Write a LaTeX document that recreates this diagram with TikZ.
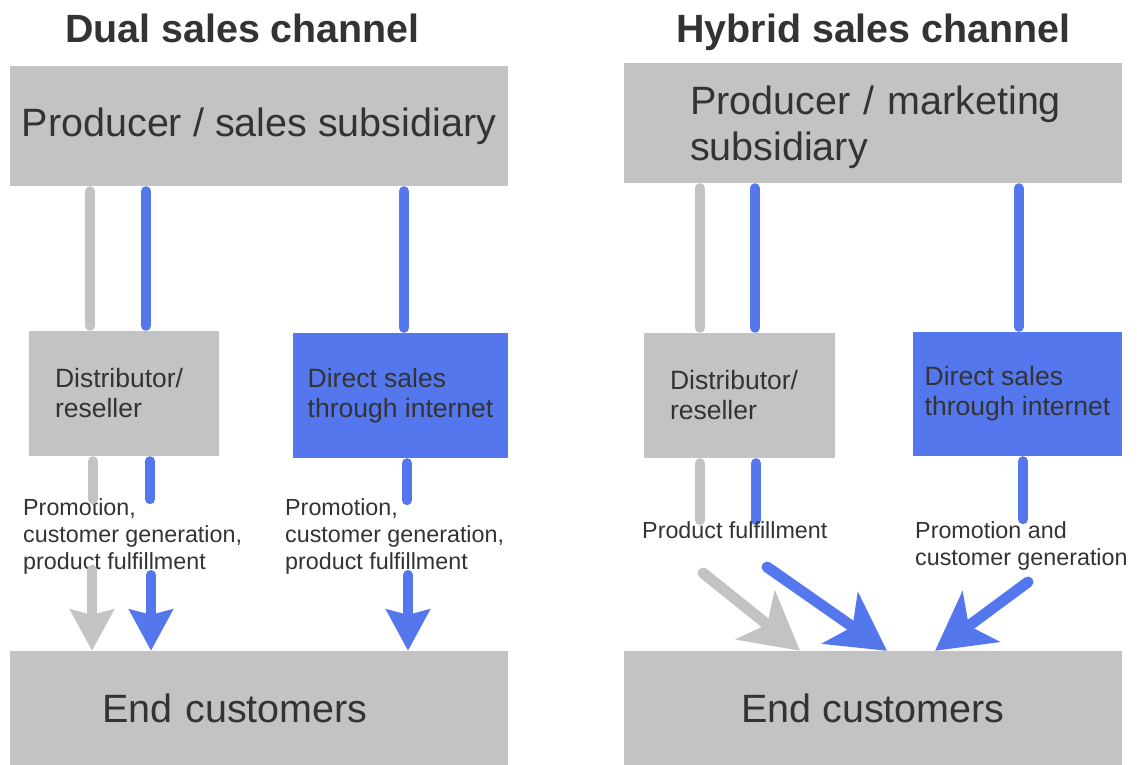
\documentclass[tikz,border=0pt]{standalone}
\usepackage{fontspec}
\setmainfont{Liberation Sans}
\usetikzlibrary{arrows.meta}

\definecolor{boxgray}{HTML}{C3C3C3}
\definecolor{chblue}{HTML}{5477ED}
\definecolor{txt}{HTML}{333333}

\newcommand{\bigtxt}{\fontsize{39.5}{43}\selectfont}
\newcommand{\midtxt}{\fontsize{26.5}{30}\selectfont}
\newcommand{\smalltxt}{\fontsize{23.3}{27}\selectfont}

\begin{document}
\begin{tikzpicture}[x=1pt,y=-1pt,
  every node/.style={text=txt,inner sep=0pt},
  box/.style={fill=#1,inner ysep=0pt},
  title/.style={font=\bfseries\fontsize{39.4}{44}\selectfont,anchor=base},
  note/.style={font=\smalltxt,align=left,anchor=north west},
  link/.style={line width=10pt,line cap=round,draw=#1,shorten <=5pt,shorten >=5pt},
  down/.style={line width=10pt,line cap=round,draw=#1,-{Stealth[length=41pt,width=43pt,inset=5pt]}},
  slant/.style={line width=11pt,line cap=round,draw=#1,-{Stealth[length=57pt,width=62pt,inset=15pt]}}]

\useasboundingbox (0,0) rectangle (1137,765);

%Dual sales channel
\node[title] (titL) at (242.5,43) {Dual sales channel};

\node[box=boxgray,minimum width=498pt,minimum height=120pt,font=\bigtxt] (prodL) at (259,126) {Producer / sales subsidiary};
\node[box=boxgray,minimum width=190pt,minimum height=125pt,inner xsep=26pt,text width=138pt,align=left,font=\midtxt] (distL) at (124,393.5) {Distributor/\\reseller};
\node[box=chblue,minimum width=215pt,minimum height=125pt,align=left,font=\midtxt] (webL) at (400.5,395.5) {Direct sales\\through internet};
\node[box=boxgray,minimum width=498pt,minimum height=114pt,inner xsep=92pt,text width=314pt,align=left,font=\bigtxt] (endL) at (259,708) {End customers};

\coordinate (g1) at (90,0);
\coordinate (b1) at (146,0);
\coordinate (b2) at (404,0);
\coordinate (g1s) at (93,0);
\coordinate (b1s) at (150,0);
\coordinate (b2s) at (407,0);

\draw[link=boxgray] (g1 |- prodL.south) -- (g1 |- distL.north);
\draw[link=chblue] (b1 |- prodL.south) -- (b1 |- distL.north);
\draw[link=chblue] (b2 |- prodL.south) -- (b2 |- webL.north);

\node[note] (promoL) at (23,498) {Promotion,\\customer generation,\\product fulfillment};
\node[note] (promoW) at (285,498) {Promotion,\\customer generation,\\product fulfillment};

\draw[link=boxgray] (g1s |- distL.south) -- +(0,48);
\draw[link=chblue] (b1s |- distL.south) -- +(0,48);
\draw[link=chblue] (b2s |- webL.south) -- +(0,47);

\draw[down=boxgray] (92,570) -- (92,0 |- endL.north);
\draw[down=chblue] (151,575) -- (151,0 |- endL.north);
\draw[down=chblue] (408,575) -- (408,0 |- endL.north);

%Hybrid sales channel
\node[title] (titR) at (873.5,43) {Hybrid sales channel};

\node[box=boxgray,minimum width=498pt,minimum height=120pt,inner xsep=66pt,text width=366pt,align=left,font=\fontsize{39.5}{46}\selectfont] (prodR) at (873,123) {\rule{0pt}{38pt}\mbox{Producer / marketing}\\subsidiary};
\node[box=boxgray,minimum width=191pt,minimum height=125pt,inner xsep=26pt,text width=139pt,align=left,font=\midtxt] (distR) at (739.5,395.5) {Distributor/\\reseller};
\node[box=chblue,minimum width=209pt,minimum height=124pt,align=left,font=\midtxt] (webR) at (1017.5,394) {Direct sales\\through internet};
\node[box=boxgray,minimum width=498pt,minimum height=114pt,font=\bigtxt] (endR) at (873,708) {End customers};

\coordinate (g2) at (700,0);
\coordinate (b3) at (755,0);
\coordinate (b4) at (1019,0);
\coordinate (b3s) at (756,0);
\coordinate (b4s) at (1023,0);

\draw[link=boxgray] (g2 |- prodR.south) -- (g2 |- distR.north);
\draw[link=chblue] (b3 |- prodR.south) -- (b3 |- distR.north);
\draw[link=chblue] (b4 |- prodR.south) -- (b4 |- webR.north);

\draw[link=boxgray] (g2 |- distR.south) -- +(0,67);
\draw[link=chblue] (b3s |- distR.south) -- +(0,67);
\draw[link=chblue] (b4s |- webR.south) -- +(0,68);

\node[font=\smalltxt,anchor=base west] (fulfR) at (642,538) {Product fulfillment};
\node[note] (promoR) at (915,521) {Promotion and\\customer generation};

\draw[slant=boxgray] (703,573) -- (800,0 |- endR.north);
\draw[slant=chblue] (767,567) -- (887,0 |- endR.north);
\draw[slant=chblue] (1028,582) -- (935,0 |- endR.north);

\end{tikzpicture}
\end{document}
